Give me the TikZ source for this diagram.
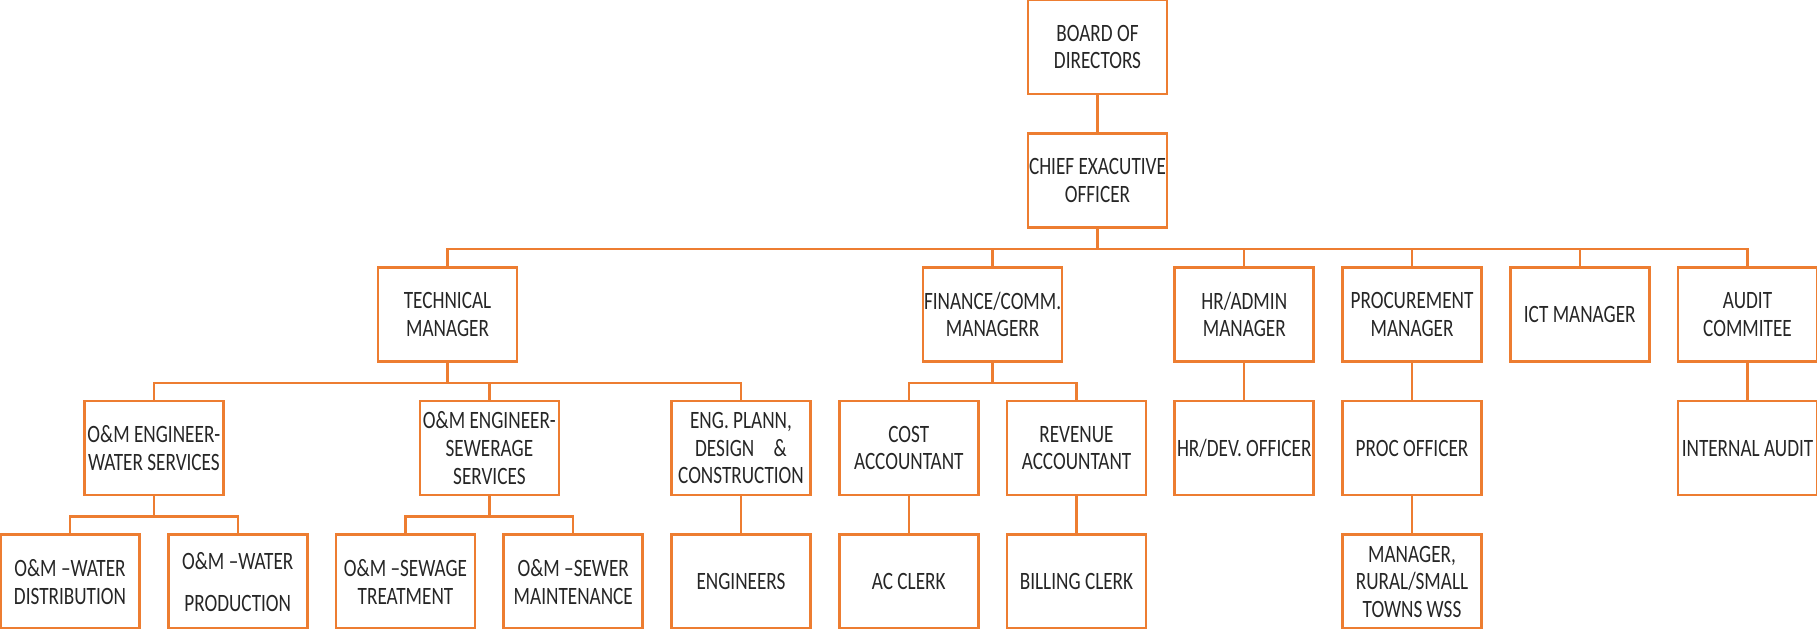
\documentclass[tikz,border=0pt]{standalone}
\usepackage{fontspec}
\setmainfont[FakeStretch=0.77]{Carlito}
\usepackage{tikz}
\definecolor{orng}{HTML}{ED7D31}
\tikzset{
  every picture/.style={line join=miter},
  box/.style={draw=orng, line width=0.55mm, minimum width=27.8mm, minimum height=18.8mm,
    inner sep=0pt, align=center, text=black!85, font=\fontsize{14.2}{15.8}\selectfont},
  link/.style={draw=orng, line width=0.45mm},
}

\begin{document}
\begin{tikzpicture}[x=0.2mm,y=-0.2mm]
\useasboundingbox (0,0) rectangle (1817,629);
\node[box] (bod) at (1097.5,47) {BOARD OF\\DIRECTORS};
\node[box] (ceo) at (1097.5,180.7) {CHIEF EXACUTIVE\\OFFICER};
\node[box] (tm) at (447.5,314.4) {TECHNICAL\\MANAGER};
\node[box] (fin) at (992.6,314.4) {FINANCE/COMM.\\MANAGERR};
\node[box] (hr) at (1244.25,314.4) {HR/ADMIN\\MANAGER};
\node[box] (proc) at (1412,314.4) {PROCUREMENT\\MANAGER};
\node[box] (ict) at (1579.75,314.4) {ICT MANAGER};
\node[box] (aud) at (1747.5,314.4) {AUDIT\\COMMITEE};
\node[box] (omw) at (153.9,448.1) {O\&M ENGINEER-\\WATER SERVICES};
\node[box] (oms) at (489.4,448.1) {O\&M ENGINEER-\\SEWERAGE\\SERVICES};
\node[box] (eng) at (741,448.1) {ENG. PLANN,\\DESIGN\hspace{3mm} \&\\CONSTRUCTION};
\node[box] (cost) at (908.75,448.1) {COST\\ACCOUNTANT};
\node[box] (rev) at (1076.5,448.1) {REVENUE\\ACCOUNTANT};
\node[box] (hrdev) at (1244.25,448.1) {HR/DEV. OFFICER};
\node[box] (proco) at (1412,448.1) {PROC OFFICER};
\node[box] (inta) at (1747.5,448.1) {INTERNAL AUDIT};
\node[box] (omwd) at (70,581.8) {O\&M --WATER\\DISTRIBUTION};
\node[box] (omwp) at (237.75,581.8) {O\&M --WATER\\[2.8mm]PRODUCTION};
\node[box] (omst) at (405.5,581.8) {O\&M --SEWAGE\\TREATMENT};
\node[box] (omsm) at (573.25,581.8) {O\&M --SEWER\\MAINTENANCE};
\node[box] (engs) at (741,581.8) {ENGINEERS};
\node[box] (acc) at (908.75,581.8) {AC CLERK};
\node[box] (bill) at (1076.5,581.8) {BILLING CLERK};
\node[box] (mgr) at (1412,581.8) {MANAGER,\\RURAL/SMALL\\TOWNS WSS};
\draw[link] (bod.south) -- (ceo.north);
\foreach \c in {tm,fin,hr,proc,ict,aud}
  \draw[link] (ceo.south) -- ++(0,20) -| (\c.north);
\foreach \c in {omw,oms,eng}
  \draw[link] (tm.south) -- ++(0,20) -| (\c.north);
\foreach \c in {cost,rev}
  \draw[link] (fin.south) -- ++(0,20) -| (\c.north);
\draw[link] (hr.south) -- (hrdev.north);
\draw[link] (proc.south) -- (proco.north);
\draw[link] (aud.south) -- (inta.north);
\foreach \c in {omwd,omwp}
  \draw[link] (omw.south) -- ++(0,20) -| (\c.north);
\foreach \c in {omst,omsm}
  \draw[link] (oms.south) -- ++(0,20) -| (\c.north);
\draw[link] (eng.south) -- (engs.north);
\draw[link] (cost.south) -- (acc.north);
\draw[link] (rev.south) -- (bill.north);
\draw[link] (proco.south) -- (mgr.north);
\end{tikzpicture}
\end{document}
